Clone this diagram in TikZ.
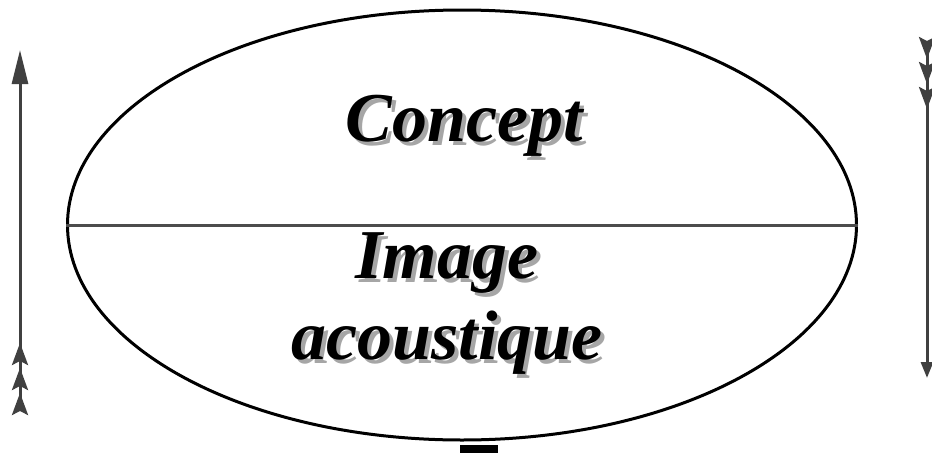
\documentclass[tikz,border=0pt]{standalone}
\usepackage{fontspec}
\setmainfont{Liberation Serif}
\usetikzlibrary{arrows.meta,shapes.geometric}
\newcommand{\shadowed}[1]{\makebox[0pt][l]{\hspace{4pt}\raisebox{-4pt}{\textcolor{black!35}{#1}}}#1}
\begin{document}
\begin{tikzpicture}[x=1pt,y=-1pt,
  lbl/.style={font=\fontsize{70}{72}\selectfont\bfseries\itshape, inner sep=0pt},
  sideline/.style={line width=3pt, draw=black!75},
  fth/.tip={Stealth[reversed,length=22pt,width=16pt,inset=4pt,sep=3pt]},
  bighead/.tip={Stealth[length=34pt,width=16pt,inset=0pt]},
  smallhead/.tip={Stealth[length=16pt,width=12pt,inset=0pt]}]
\useasboundingbox (0,0) rectangle (932,453);
\node[draw=black, line width=3pt, ellipse, minimum width=789pt, minimum height=430pt, inner sep=0pt] (ell) at (462,225) {};
\draw[line width=3pt, draw=black!70] (ell.west) -- (ell.east);
\node[lbl] (concept) at (464,128) {\shadowed{Concept}};
\node[lbl] (image) at (447,265) {\shadowed{Image}};
\node[lbl] (acou) at (447,345) {\shadowed{acoustique}};
\coordinate (lb) at (20,418);
\coordinate (lt) at (20,50);
\coordinate (rt) at (927,34);
\coordinate (rb) at (927,378);
\draw[sideline, {fth[]fth[]fth[]}-{bighead[]}] (lb) -- (lt);
\draw[sideline, {fth[]fth[]fth[]}-{smallhead[]}] (rt) -- (rb);
\fill[black] (460,445) rectangle (498,453);
\end{tikzpicture}
\end{document}
